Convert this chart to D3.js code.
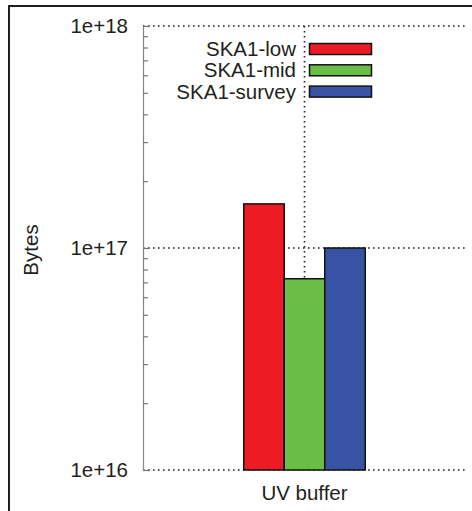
<!DOCTYPE html>
<html><head><meta charset="utf-8">
<script src="https://cdn.jsdelivr.net/npm/d3@7/dist/d3.min.js"></script>
<style>body{margin:0;background:#fff}svg{display:block}text{font-family:"Liberation Sans",Arial,sans-serif}</style>
</head><body>
<script>
const categories = ["UV buffer"];
const seriesNames = ["SKA1-low", "SKA1-mid", "SKA1-survey"];
const seriesColors = ["#ed1c24", "#6abd45", "#3953a4"];
const seriesValues = [[1.58e17], [7.27e16], [1.0e17]];
const yTickValues = [1e16, 1e17, 1e18];
const yTickLabels = ["1e+16", "1e+17", "1e+18"];

(function () {
const W = 472, H = 511;
const FS = 20.5;
const svg = d3.select("body").append("svg").attr("width", W).attr("height", H);

// frame
svg.append("path").attr("d", "M9,511 V6 H472").attr("fill", "none").attr("stroke", "#231f20").attr("stroke-width", 2);

const pL = 143, pR = 466, pT = 26, pB = 470;
const y = d3.scaleLog().domain([1e16, 1e18]).range([pB, pT]);
const x0 = d3.scaleBand().domain(categories).range([pL, pR]).paddingInner(0).paddingOuter(0);
const x1 = d3.scaleBand().domain(seriesNames).range([0, 121.5]);

const dot = {"stroke": "#231f20", "stroke-width": 1.6, "stroke-dasharray": "1.6,3.4"};

// horizontal grid
yTickValues.forEach(v => {
  const l = svg.append("line").attr("x1", pL).attr("x2", pR).attr("y1", y(v)).attr("y2", y(v));
  Object.entries(dot).forEach(([k, val]) => l.attr(k, val));
});
// vertical grid
categories.forEach(c => {
  const cx = x0(c) + x0.bandwidth() / 2;
  const l = svg.append("line").attr("x1", cx).attr("x2", cx).attr("y1", pT).attr("y2", pB);
  Object.entries(dot).forEach(([k, val]) => l.attr(k, val));
});

// bars
const g = svg.append("g");
categories.forEach((c, ci) => {
  const gx = x0(c) + x0.bandwidth() / 2 - x1.range()[1] / 2;
  seriesNames.forEach((s, si) => {
    const v = seriesValues[si][ci];
    g.append("rect")
      .attr("x", gx + x1(s)).attr("width", x1.bandwidth())
      .attr("y", y(v)).attr("height", pB - y(v))
      .attr("fill", seriesColors[si]).attr("stroke", "#111").attr("stroke-width", 1.5);
  });
});

// y axis
const yAxis = d3.axisLeft(y)
  .tickValues(d3.range(16, 18).flatMap(e => d3.range(1, 10).map(m => m * Math.pow(10, e))).concat([1e18]))
  .tickSize(-7).tickFormat("");
const ag = svg.append("g").attr("transform", `translate(${pL},0)`).call(yAxis);
ag.select(".domain").attr("stroke", "#888").attr("stroke-width", 1.2);
ag.selectAll(".tick line").attr("stroke", "#777").attr("stroke-width", 1.2)
  .attr("x2", d => yTickValues.includes(d) ? 7 : 5);

yTickValues.forEach((v, i) => {
  svg.append("text").attr("x", 128).attr("y", y(v)).attr("dy", "0.35em")
    .attr("text-anchor", "end").attr("font-size", FS).attr("fill", "#231f20").text(yTickLabels[i]);
});

// x labels
categories.forEach(c => {
  svg.append("text").attr("x", x0(c) + x0.bandwidth() / 2).attr("y", 500)
    .attr("text-anchor", "middle").attr("font-size", FS).attr("fill", "#231f20").text(c);
});

// y title
svg.append("text").attr("transform", "translate(38,250) rotate(-90)")
  .attr("text-anchor", "middle").attr("font-size", FS).attr("fill", "#231f20").text("Bytes");

// legend
seriesNames.forEach((s, i) => {
  const ly = 49 + i * 21.3;
  svg.append("text").attr("x", 296).attr("y", ly).attr("dy", "0.35em")
    .attr("text-anchor", "end").attr("font-size", FS).attr("fill", "#231f20").text(s);
  svg.append("rect").attr("x", 309.5).attr("y", ly - 5.5).attr("width", 62).attr("height", 11)
    .attr("fill", seriesColors[i]).attr("stroke", "#111").attr("stroke-width", 1.5);
});
})();
</script>
</body></html>
